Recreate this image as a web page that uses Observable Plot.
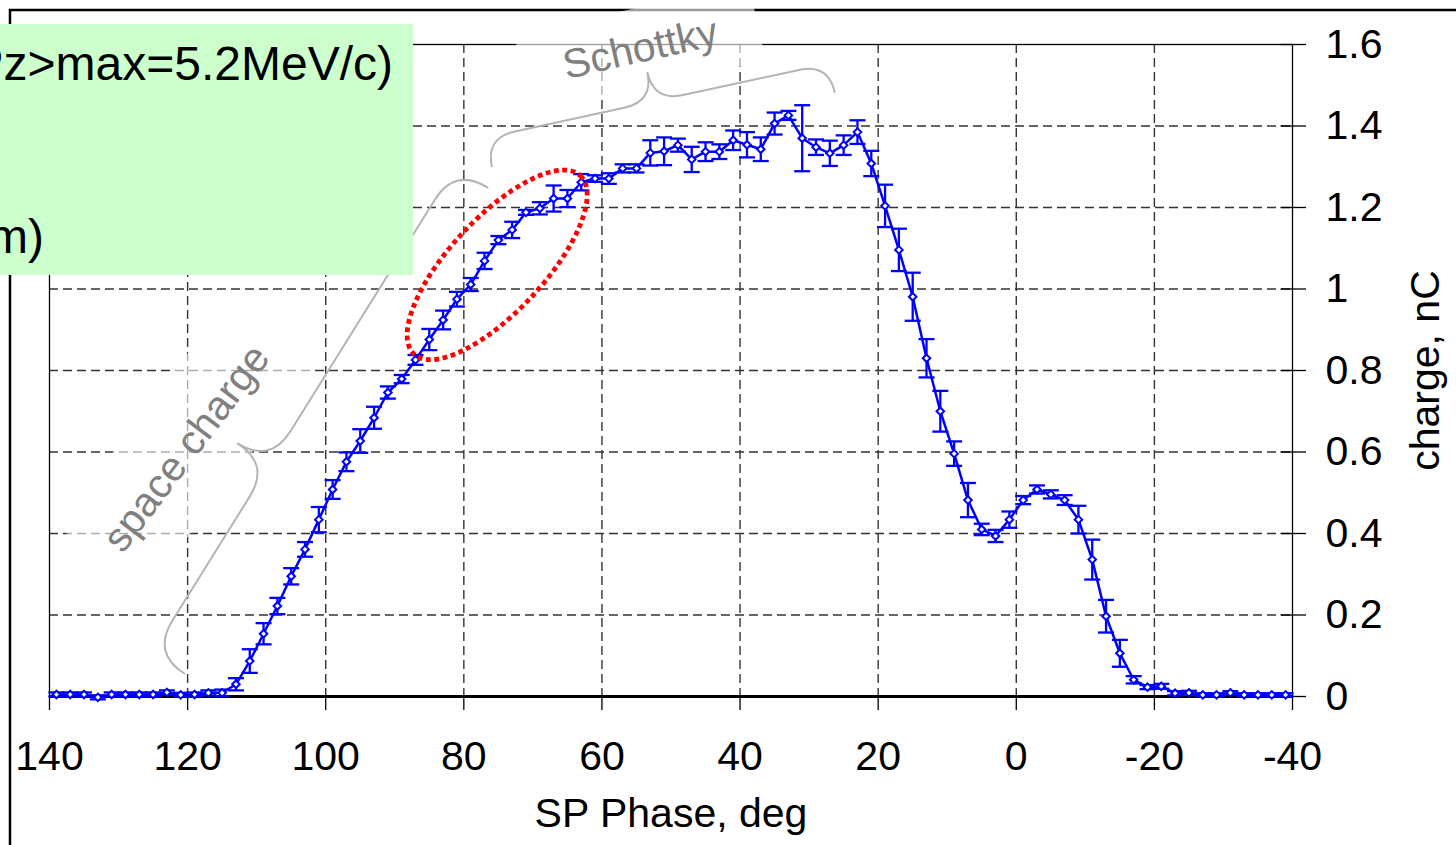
<!DOCTYPE html>
<html><head><meta charset="utf-8">
<script src="https://cdn.jsdelivr.net/npm/d3@7"></script>
<script src="https://cdn.jsdelivr.net/npm/@observablehq/plot@0.6"></script>
<style>
html,body{margin:0;padding:0;background:#fff;}
#chart{position:relative;width:1456px;height:845px;overflow:hidden;}
</style></head><body><div id="chart"></div>
<script>
// ---- data ----
const phase = [139,137,135,133,131,129,127,125,123,121,119,117,115,113,111,109,107,105,103,101,
  99,97,95,93,91,89,87,85,83,81,79,77,75,73,71,69,67,65,63,61,
  59,57,55,53,51,49,47,45,43,41,39,37,35,33,31,29,27,25,23,21,
  19,17,15,13,11,9,7,5,3,1,-1,-3,-5,-7,-9,-11,-13,-15,-17,-19,
  -21,-23,-25,-27,-29,-31,-33,-35,-37,-39];
const charge = [0.005,0.005,0.005,-0.002,0.005,0.005,0.005,0.005,0.010,0.004,0.005,0.009,0.009,0.030,0.087,0.154,0.222,0.295,0.361,0.434,
  0.508,0.576,0.627,0.684,0.746,0.779,0.826,0.876,0.924,0.975,1.011,1.069,1.120,1.145,1.188,1.198,1.222,1.222,1.262,1.271,
  1.271,1.296,1.296,1.334,1.338,1.353,1.318,1.337,1.337,1.365,1.354,1.343,1.406,1.426,1.370,1.348,1.333,1.353,1.385,1.308,
  1.204,1.096,0.981,0.830,0.700,0.596,0.482,0.410,0.394,0.434,0.482,0.508,0.496,0.482,0.434,0.336,0.197,0.106,0.041,0.023,
  0.025,0.008,0.009,0.004,0.004,0.009,0.004,0.004,0.004,0.004];
const chargeErr = [0.005,0.005,0.005,0.005,0.005,0.005,0.005,0.005,0.005,0.005,0.005,0.006,0.008,0.015,0.029,0.026,0.020,0.020,0.018,0.031,
  0.023,0.023,0.029,0.027,0.015,0.010,0.012,0.026,0.023,0.018,0.016,0.020,0.010,0.020,0.006,0.015,0.032,0.021,0.020,0.008,
  0.013,0.010,0.010,0.031,0.034,0.016,0.031,0.023,0.018,0.024,0.031,0.029,0.027,0.011,0.081,0.019,0.031,0.024,0.029,0.031,
  0.052,0.052,0.059,0.047,0.050,0.030,0.042,0.014,0.015,0.020,0.010,0.010,0.010,0.012,0.034,0.049,0.040,0.033,0.009,0.005,
  0.006,0.005,0.005,0.004,0.004,0.004,0.004,0.004,0.004,0.004];
const xTicks = [140,120,100,80,60,40,20,0,-20,-40];
const xGrid = [120,100,80,60,40,20,0,-20];
const yTicks = [0,0.2,0.4,0.6,0.8,1,1.2,1.4,1.6];
const yGrid = [0.2,0.4,0.6,0.8,1,1.2,1.4];
const xLabel = "SP Phase, deg";
const yLabel = "charge, nC";
const noteLines = ["<Pz>max=5.2MeV/c)", "m)"];
// annotations anchored in data units: [phase, charge]
const spaceBrace = [[120.3, 0.054], [76.4, 1.247]];
const schottkyBrace = [[75.85, 1.298], [26.2, 1.480]];
const ellipseCenter = [75.1, 1.058];
const spaceLabel = {text: "space charge", at: [120.2, 0.609]};
const schottkyLabel = {text: "Schottky", at: [54.4, 1.590]};

const rows = phase.map((p, i) => ({phase: p, charge: charge[i], err: chargeErr[i]}));
const FONT = "'Liberation Sans', Arial, Helvetica, sans-serif";
const BLUE = "#0000ff";
const capSymbol = {draw(ctx) { ctx.moveTo(-8, 0); ctx.lineTo(8, 0); }};
const crossTick = {draw(ctx) { ctx.moveTo(-12, 0); ctx.lineTo(0, 0); }};

const plot = Plot.plot({
  width: 1456, height: 845,
  marginLeft: 49, marginRight: 164, marginTop: 44, marginBottom: 149,
  style: {fontFamily: FONT, background: "transparent", color: "#000"},
  x: {domain: [140, -40], axis: null},
  y: {domain: [0, 1.6], axis: null},
  marks: [
    Plot.ruleX(xGrid, {stroke: "#333", strokeWidth: 1.4, strokeDasharray: "9,5"}),
    Plot.ruleY(yGrid, {stroke: "#333", strokeWidth: 1.4, strokeDasharray: "9,5"}),
    Plot.frame({stroke: "#000", strokeWidth: 1.3}),
    Plot.ruleY([0], {stroke: "#000", strokeWidth: 3}),
    Plot.axisX({ticks: xTicks, tickSize: 14, tickPadding: 30, fontSize: 41, tickFormat: d => String(d), label: null, stroke: "#000", strokeWidth: 1.3, fill: "#000"}),
    Plot.axisY({anchor: "right", ticks: yTicks, tickSize: 13, tickPadding: 20, fontSize: 41, tickFormat: d => String(d), label: null, stroke: "#000", strokeWidth: 1.3, fill: "#000"}),
    Plot.dot(yTicks, {x: () => -40, y: d => d, symbol: crossTick, stroke: "#000", strokeWidth: 1.3}),
    Plot.text([xLabel], {frameAnchor: "bottom", lineAnchor: "middle", dy: 117, fontSize: 41, fill: "#000"}),
    Plot.text([yLabel], {frameAnchor: "right", textAnchor: "middle", lineAnchor: "middle", dx: 133, rotate: -90, fontSize: 41, fill: "#000"}),
    Plot.ruleX(rows, {x: "phase", y1: d => d.charge - d.err, y2: d => d.charge + d.err, stroke: BLUE, strokeWidth: 2.3}),
    Plot.dot(rows, {x: "phase", y: d => d.charge + d.err, symbol: capSymbol, stroke: BLUE, strokeWidth: 2.3}),
    Plot.dot(rows, {x: "phase", y: d => d.charge - d.err, symbol: capSymbol, stroke: BLUE, strokeWidth: 2.3}),
    Plot.line(rows, {x: "phase", y: "charge", stroke: BLUE, strokeWidth: 2.5}),
    Plot.dot(rows, {x: "phase", y: "charge", symbol: "diamond2", r: 3.4, fill: "#fff", stroke: BLUE, strokeWidth: 2})
  ]
});
document.getElementById("chart").appendChild(plot);

// ---- overlay annotations ----
const sx = plot.scale("x"), sy = plot.scale("y");
const P = d => [sx.apply(d[0]), sy.apply(d[1])];
const svg = d3.select(plot);
const ov = svg.append("g").attr("font-family", FONT);

// outer chart border
ov.append("path").attr("d", "M10,845 V10 H1456").attr("fill", "none").attr("stroke", "#000").attr("stroke-width", 2.5);

function bracePath(a, b, r, t) {
  const dx = b[0] - a[0], dy = b[1] - a[1], L = Math.hypot(dx, dy);
  const u = [dx / L, dy / L], n = [u[1], -u[0]];
  const f = (p, su, sn) => [p[0] + u[0] * su + n[0] * sn, p[1] + u[1] * su + n[1] * sn];
  const pc = f(a, t * L, 0);
  const pt = p => p[0].toFixed(1) + "," + p[1].toFixed(1);
  return "M" + pt(a) + " Q" + pt(f(a, 0, r)) + " " + pt(f(a, r, r)) +
    " L" + pt(f(pc, -r, r)) + " Q" + pt(f(pc, 0, r)) + " " + pt(f(pc, 0, 2 * r)) +
    " M" + pt(b) + " Q" + pt(f(b, 0, r)) + " " + pt(f(b, -r, r)) +
    " L" + pt(f(pc, r, r)) + " Q" + pt(f(pc, 0, r)) + " " + pt(f(pc, 0, 2 * r));
}

// semi transparent text boxes
function textBox(lab, w, h, ang) {
  const c = P(lab.at);
  ov.append("rect").attr("x", -w / 2).attr("y", -h / 2).attr("width", w).attr("height", h)
    .attr("fill", "#fff").attr("fill-opacity", 0.6)
    .attr("transform", `translate(${c[0]},${c[1]}) rotate(${ang})`);
}
textBox(spaceLabel, 280, 111, -52.9);
textBox(schottkyLabel, 240, 80, -12.8);

ov.append("path").attr("d", bracePath(P(spaceBrace[0]), P(spaceBrace[1]), 39, 0.39))
  .attr("fill", "none").attr("stroke", "#b4b4b4").attr("stroke-width", 2);
ov.append("path").attr("d", bracePath(P(schottkyBrace[0]), P(schottkyBrace[1]), 30, 0.49))
  .attr("fill", "none").attr("stroke", "#b4b4b4").attr("stroke-width", 2);

function label(lab, ang) {
  const c = P(lab.at);
  ov.append("text").text(lab.text).attr("text-anchor", "middle").attr("dominant-baseline", "central")
    .attr("font-size", 41).attr("fill", "#808080")
    .attr("transform", `translate(${c[0]},${c[1]}) rotate(${ang})`);
}
label(spaceLabel, -52.9);
label(schottkyLabel, -12.8);

// red dotted ellipse
const ec = P(ellipseCenter);
ov.append("ellipse").attr("cx", 0).attr("cy", 0).attr("rx", 122).attr("ry", 47)
  .attr("transform", `translate(${ec[0]},${ec[1]}) rotate(-47)`)
  .attr("fill", "none").attr("stroke", "#ff0000").attr("stroke-width", 4.8).attr("stroke-dasharray", "4.8,3.6");

// green note box
ov.append("rect").attr("x", 0).attr("y", 24).attr("width", 413).attr("height", 251).attr("fill", "#ccffcc");
ov.append("text").text(noteLines[0]).attr("x", 393).attr("y", 80).attr("text-anchor", "end")
  .attr("font-size", 48).attr("fill", "#000");
ov.append("text").text(noteLines[1]).attr("x", 44).attr("y", 253).attr("text-anchor", "end")
  .attr("font-size", 48).attr("fill", "#000");
</script>
</body></html>
